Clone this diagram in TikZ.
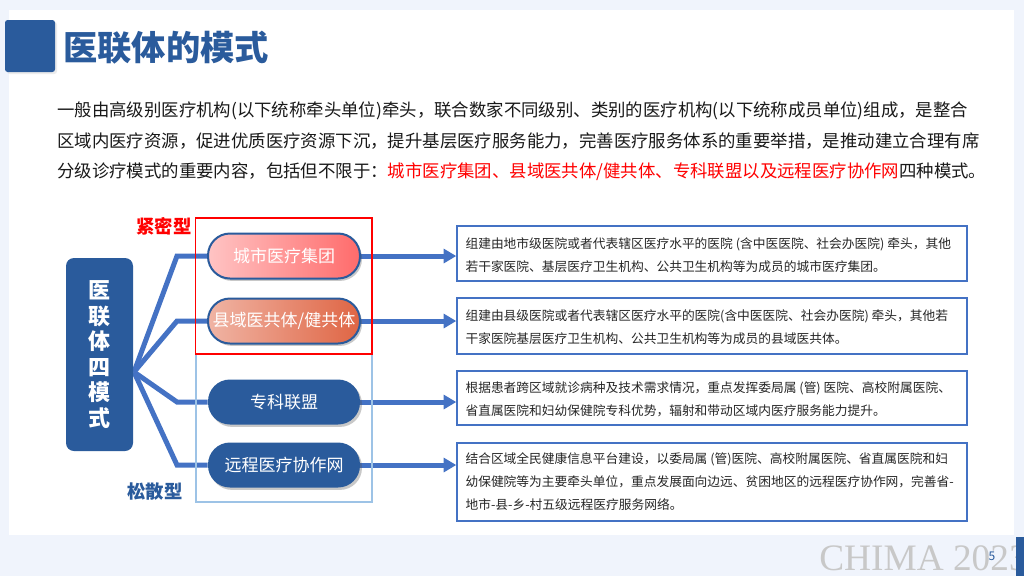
\documentclass[tikz,border=0pt]{standalone}
\usepackage{fontspec}
\setmainfont{Noto Sans CJK SC}
\newfontfamily\chimafont{Liberation Serif}
\usetikzlibrary{arrows.meta,shadows}
\definecolor{dblue}{HTML}{2A5B9C}
\definecolor{lblue}{HTML}{4472C4}
\definecolor{bgc}{HTML}{F0F4FC}
\definecolor{frameblue}{HTML}{9DC3E6}
\definecolor{chimagray}{HTML}{C8C8C8}
\definecolor{pAl}{HTML}{FFC4C4}
\definecolor{pAr}{HTML}{FF6B6B}
\definecolor{pBl}{HTML}{F0B4A4}
\definecolor{pBr}{HTML}{DF6544}
\pgfdeclarelayer{bglayer}
\pgfdeclarelayer{midlayer}
\pgfsetlayers{bglayer,midlayer,main}
\begin{document}
\begin{tikzpicture}[x=0.75pt,y=-0.75pt,
  pill/.style={rectangle, rounded corners=16.5pt, minimum width=114pt, minimum height=33.75pt,
    text=white, font=\fontsize{12.75}{15}\selectfont, inner sep=0pt,
    drop shadow={shadow xshift=1.5pt, shadow yshift=-1.8pt, opacity=0.3, fill=black!70}},
  pillborder/.style={draw=dblue, line width=1.5pt},
  branch/.style={draw=lblue, line width=3.75pt, line join=miter},
  arrowline/.style={draw=lblue, line width=3.75pt, -{Triangle[length=9.5pt,width=10.5pt]}},
  detail/.style={draw=lblue, line width=1.1pt, fill=white, minimum width=382.5pt, inner sep=0pt},
  dtext/.style={anchor=west, align=left, font=\fontsize{9.55}{17.25}\selectfont, inner sep=0pt, text=black!85},
  para/.style={anchor=west, inner sep=0pt, font=\fontsize{13.05}{15}\selectfont, text=black!90},
  tag/.style={inner sep=0pt, font=\bfseries\fontsize{13.8}{16}\selectfont}
]
\useasboundingbox (0,0) rectangle (1024,576);

% title
\node[fill=dblue, rounded corners=2pt, minimum width=37.5pt, minimum height=39pt, inner sep=0pt,
  drop shadow={shadow xshift=1.5pt, shadow yshift=-1.5pt, opacity=0.15}] (titlesq) at (30,46) {};
\node[anchor=west, inner sep=0pt, text=dblue, font=\bfseries\fontsize{25.7}{28}\selectfont] (title) at (63,48) {医联体的模式};

% paragraph
\node[para] (l1) at (57,111) {一般由高级别医疗机构(以下统称牵头单位)牵头，联合数家不同级别、类别的医疗机构(以下统称成员单位)组成，是整合};
\node[para] (l2) at (57,141) {区域内医疗资源，促进优质医疗资源下沉，提升基层医疗服务能力，完善医疗服务体系的重要举措，是推动建立合理有席};
\node[para] (l3) at (57,172) {分级诊疗模式的重要内容，包括但不限于：\textcolor{red}{城市医疗集团、县域医共体/健共体、专科联盟以及远程医疗协作网}四种模式。};

% frames
\draw[frameblue, line width=0.9pt] (196,354) rectangle (372,502);
\draw[red, line width=0.9pt] (195.5,218) rectangle (372,354);
\node[tag, text=red] (tight) at (164,226) {紧密型};
\node[tag, text=dblue] (loose) at (155,492) {松散型};

% left box
\node[fill=dblue, rounded corners=6pt, minimum width=50.25pt, minimum height=144.75pt, inner sep=0pt,
  text=white, align=center, font=\bfseries\fontsize{16.5}{19.2}\selectfont] (mainbox) at (99.5,354.5)
  {医\\联\\体\\四\\模\\式};
\coordinate (hub) at (134,372);

% pills
\node[pill, pillborder, left color=pAl, right color=pAr] (p1) at (284,256) {城市医疗集团};
\node[pill, pillborder, left color=pBl, right color=pBr] (p2) at (284,321) {县域医共体/健共体};
\node[pill, fill=dblue] (p3) at (284,402) {专科联盟};
\node[pill, fill=dblue] (p4) at (284,465) {远程医疗协作网};

% detail boxes
\node[detail, minimum height=41.25pt] (d1) at (712,253.5) {};
\node[detail, minimum height=42pt] (d2) at (712,326) {};
\node[detail, minimum height=40.5pt] (d3) at (712,398) {};
\node[detail, minimum height=58.5pt] (d4) at (712,482) {};
\node[dtext] (t1) at ([xshift=6.75pt,yshift=-1pt]d1.west) {组建由地市级医院或者代表辖区医疗水平的医院 (含中医医院、社会办医院) 牵头，其他\\若干家医院、基层医疗卫生机构、公共卫生机构等为成员的城市医疗集团。};
\node[dtext] (t2) at ([xshift=6.75pt,yshift=-0.5pt]d2.west) {组建由县级医院或者代表辖区医疗水平的医院(含中医医院、社会办医院) 牵头，其他若\\干家医院基层医疗卫生机构、公共卫生机构等为成员的县域医共体。};
\node[dtext] (t3) at ([xshift=6.75pt,yshift=-1pt]d3.west) {根据患者跨区域就诊病种及技术需求情况，重点发挥委局属 (管) 医院、高校附属医院、\\省直属医院和妇幼保健院专科优势，辐射和带动区域内医疗服务能力提升。};
\node[dtext] (t4) at ([xshift=6.75pt,yshift=0pt]d4.west) {结合区域全民健康信息平台建设，以委局属 (管)医院、高校附属医院、省直属医院和妇\\幼保健院等为主要牵头单位，重点发展面向边远、贫困地区的远程医疗协作网，完善省-\\地市-县-乡-村五级远程医疗服务网络。};

% footer
\node[anchor=base west, inner sep=0pt, text=chimagray, font=\chimafont\fontsize{28}{30}\selectfont] (chima) at (819,570) {CHIMA 2023};
\fill[dblue] (1016,537) rectangle (1024,576);
\node[inner sep=0pt, text=dblue, font=\fontsize{9}{10}\selectfont] (pagenum) at (992,556) {5};

% connectors
\begin{pgfonlayer}{midlayer}
\draw[branch] (hub) -- (177,256) -- (p1.west);
\draw[branch] (hub) -- (177,321) -- (p2.west);
\draw[branch] (hub) -- (177,402) -- (p3.west);
\draw[branch] (hub) -- (177,465) -- (p4.west);
\draw[arrowline] (p1.east) -- (d1.west |- p1.east);
\draw[arrowline] (p2.east) -- (d2.west |- p2.east);
\draw[arrowline] (p3.east) -- (d3.west |- p3.east);
\draw[arrowline] (p4.east) -- (d4.west |- p4.east);
\end{pgfonlayer}

% background
\begin{pgfonlayer}{bglayer}
\fill[bgc] (0,0) rectangle (1024,576);
\fill[white] (9,10) rectangle (1014,535);
\end{pgfonlayer}
\end{tikzpicture}
\end{document}
